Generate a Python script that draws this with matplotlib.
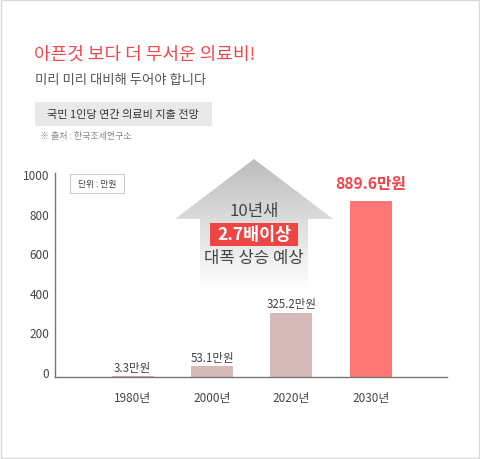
import numpy as np
import matplotlib
matplotlib.use("Agg")
import matplotlib.pyplot as plt
from matplotlib.patches import Polygon, Rectangle
from matplotlib.colors import LinearSegmentedColormap
from matplotlib.transforms import ScaledTranslation

plt.rcParams['font.family'] = ['Noto Sans CJK KR', 'DejaVu Sans']

years = ['1980년', '2000년', '2020년', '2030년']
costs = [3.3, 53.1, 325.2, 889.6]
cost_labels = ['3.3만원', '53.1만원', '325.2만원', '889.6만원']
yticks = [0, 200, 400, 600, 800, 1000]

bar_colors = ['#dcaaaa', '#d6b9b9', '#d6b9b9', '#ff7676']
red = '#f0464b'
txt = '#444444'

W, H = 480, 460
fig = plt.figure(figsize=(W / 100, H / 100), dpi=100)

# background overlay in pixel coords
bg = fig.add_axes([0, 0, 1, 1], zorder=0)
bg.set_xlim(0, W)
bg.set_ylim(H, 0)
bg.axis('off')
bg.add_patch(Rectangle((0.5, 0.5), W - 1.5, H - 1.5, fill=False, ec='#d9d9d9', lw=1))

bg.text(34, 55, '아픈것 보다 더 무서운 의료비!', color=red, fontsize=13, va='center')
bg.text(35, 80, '미리 미리 대비해 두어야 합니다', color='#555555', fontsize=9.6, va='center')
bg.add_patch(Rectangle((35, 103), 177, 24, color='#e9e9e9', lw=0))
bg.text(47, 115, '국민 1인당 연간 의료비 지출 전망', color='#333333', fontsize=8, va='center')
bg.text(40, 137, '※ 출처 : 한국조세연구소', color='#888888', fontsize=6.5, va='center')

# unit box
bg.add_patch(Rectangle((70, 175), 54, 19, fc='white', ec='#cccccc', lw=0.8))
bg.text(97, 184.5, '단위 : 만원', color=txt, fontsize=6.3, ha='center', va='center')

# gradient arrow
arrow_pts = [(254, 160), (333, 220), (308, 220), (308, 290),
             (200, 290), (200, 220), (175, 220)]
arrow = Polygon(arrow_pts, closed=True, fc='none', ec='none')
bg.add_patch(arrow)
cmap = LinearSegmentedColormap.from_list('g', ['#bcbcbc', '#dedede', '#ffffff'])
grad = np.linspace(0, 1, 256).reshape(-1, 1)
im = bg.imshow(grad, cmap=cmap, extent=[175, 333, 290, 160], aspect='auto', zorder=1)
im.set_clip_path(arrow)
bg.set_xlim(0, W)
bg.set_ylim(H, 0)

bg.text(254, 212, '10년새', color=txt, fontsize=12, ha='center', va='center', zorder=3)
bg.add_patch(Rectangle((210, 224), 88, 23, color='#f04545', lw=0, zorder=2))
bg.text(254, 235.5, '2.7배이상', color='white', fontsize=12.5, fontweight='bold',
        ha='center', va='center', zorder=3)
bg.text(254, 259, '대폭 상승 예상', color=txt, fontsize=12, ha='center', va='center', zorder=3)

# bar chart
ymax = 1030
scale = 0.198
top_px = 378 - ymax * scale
ax = fig.add_axes([55 / W, (H - 378) / H, (447 - 55) / W, (378 - top_px) / H], zorder=2)
ax.patch.set_alpha(0)
x = np.arange(len(years))
ax.bar(x, costs, width=0.53, color=bar_colors)
ax.set_xlim(-0.98, 3.96)
ax.set_ylim(0, ymax)
ax.set_xticks(x)
ax.set_xticklabels(years, fontsize=8.5, color=txt)
ax.set_yticks(yticks)
ax.set_yticklabels([str(v) for v in yticks], fontsize=8.5, color=txt)
ax.tick_params(length=0)
ax.tick_params(axis='x', pad=10)
ax.tick_params(axis='y', pad=4)
shift = ScaledTranslation(0, 5 / 100, fig.dpi_scale_trans)
for lab in ax.get_yticklabels():
    lab.set_transform(lab.get_transform() + shift)
for s in ['top', 'right']:
    ax.spines[s].set_visible(False)
for s in ['left', 'bottom']:
    ax.spines[s].set_color('#777777')
    ax.spines[s].set_linewidth(1)

for i, (v, lab) in enumerate(zip(costs, cost_labels)):
    if i == len(costs) - 1:
        ax.annotate(lab, (x[i], v), xytext=(0, 7), textcoords='offset points',
                    ha='center', va='bottom', fontsize=11.3, fontweight='bold', color=red)
    else:
        ax.annotate(lab, (x[i], v), xytext=(0, 2), textcoords='offset points',
                    ha='center', va='bottom', fontsize=8.3, color=txt)

fig.savefig('out.png', dpi=100)
